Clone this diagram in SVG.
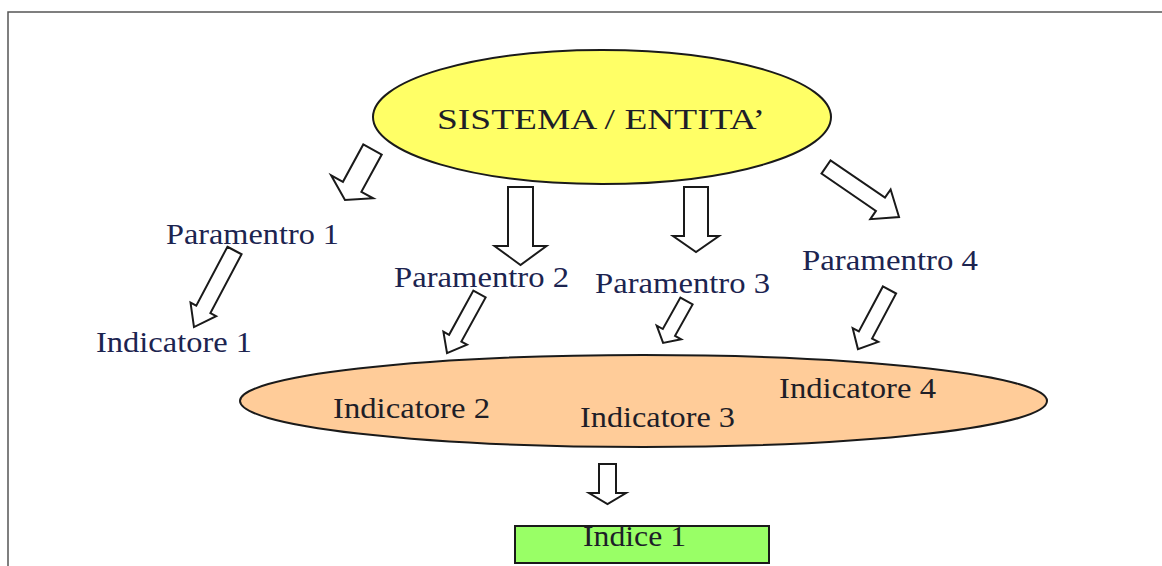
<svg xmlns="http://www.w3.org/2000/svg" width="1162" height="566" viewBox="0 0 1162 566">
<style>
.lbl{font-family:"Liberation Serif","Times New Roman",serif;font-size:29px;fill:#1c2450}
.in{font-family:"Liberation Serif","Times New Roman",serif;font-size:29px;fill:#1e1e28}
.arr{fill:#fff;stroke:#1a1a1a;stroke-width:2;stroke-linejoin:miter}
</style>
<rect width="1162" height="566" fill="#fff"/>
<path d="M8,566 V12 H1162" fill="none" stroke="#555" stroke-width="1.5"/>
<g id="sistema">
<ellipse cx="602" cy="117" rx="229" ry="67" fill="#ffff66" stroke="#1a1a1a" stroke-width="2"/>
<text class="in" x="437" y="129" font-size="34" textLength="328" lengthAdjust="spacingAndGlyphs">SISTEMA / ENTITA’</text>
</g>
<g id="indicatori">
<ellipse cx="643.5" cy="401" rx="403.5" ry="46" fill="#ffcc99" stroke="#1a1a1a" stroke-width="2"/>
<text class="in" x="333" y="418" textLength="157" lengthAdjust="spacingAndGlyphs">Indicatore 2</text>
<text class="in" x="580" y="427" textLength="155" lengthAdjust="spacingAndGlyphs">Indicatore 3</text>
<text class="in" x="779" y="398" textLength="157" lengthAdjust="spacingAndGlyphs">Indicatore 4</text>
</g>
<g id="param1"><text class="lbl" x="166" y="244" textLength="173" lengthAdjust="spacingAndGlyphs">Paramentro 1</text></g>
<g id="param2"><text class="lbl" x="394" y="287" textLength="175" lengthAdjust="spacingAndGlyphs">Paramentro 2</text></g>
<g id="param3"><text class="lbl" x="595" y="293" textLength="175" lengthAdjust="spacingAndGlyphs">Paramentro 3</text></g>
<g id="param4"><text class="lbl" x="802" y="270" textLength="176" lengthAdjust="spacingAndGlyphs">Paramentro 4</text></g>
<g id="indicatore1"><text class="lbl" x="96" y="352" textLength="156" lengthAdjust="spacingAndGlyphs">Indicatore 1</text></g>
<g id="indice1">
<rect x="515" y="526" width="254" height="37" fill="#99ff66" stroke="#1a1a1a" stroke-width="2"/>
<text class="in" x="583" y="546" textLength="103" lengthAdjust="spacingAndGlyphs">Indice 1</text>
</g>
<g id="connectors">
<path class="arr" transform="translate(372.5,149.5) rotate(28.6)" d="M-10.5,0 H10.5 V42.5 H24 L0,57.5 L-24,42.5 H-10.5 Z"/>
<path class="arr" transform="translate(520.5,187)" d="M-12.5,0 H12.5 V59 H26 L0,78 L-26,59 H-12.5 Z"/>
<path class="arr" transform="translate(696,187)" d="M-12,0 H12 V49 H23 L0,65 L-23,49 H-12 Z"/>
<path class="arr" transform="translate(826,167) rotate(-55.6)" d="M-8,0 H8 V66 H18 L0,88.5 L-18,66 H-8 Z"/>
<path class="arr" transform="translate(234.5,250.5) rotate(27.9)" d="M-8,0 H8 V66.6 H14.5 L0,86.6 L-14.5,66.6 H-8 Z"/>
<path class="arr" transform="translate(479.5,294) rotate(28.8)" d="M-7,0 H7 V50.4 H13.5 L0,67.4 L-13.5,50.4 H-7 Z"/>
<path class="arr" transform="translate(686.5,301) rotate(29.2)" d="M-7,0 H7 V36 H14 L0,48 L-14,36 H-7 Z"/>
<path class="arr" transform="translate(889.5,290) rotate(28.1)" d="M-7.5,0 H7.5 V51 H14.5 L0,67 L-14.5,51 H-7.5 Z"/>
<path class="arr" transform="translate(607.5,464)" d="M-8.5,0 H8.5 V29 H18.5 L0,40 L-18.5,29 H-8.5 Z"/>
</g>
</svg>
